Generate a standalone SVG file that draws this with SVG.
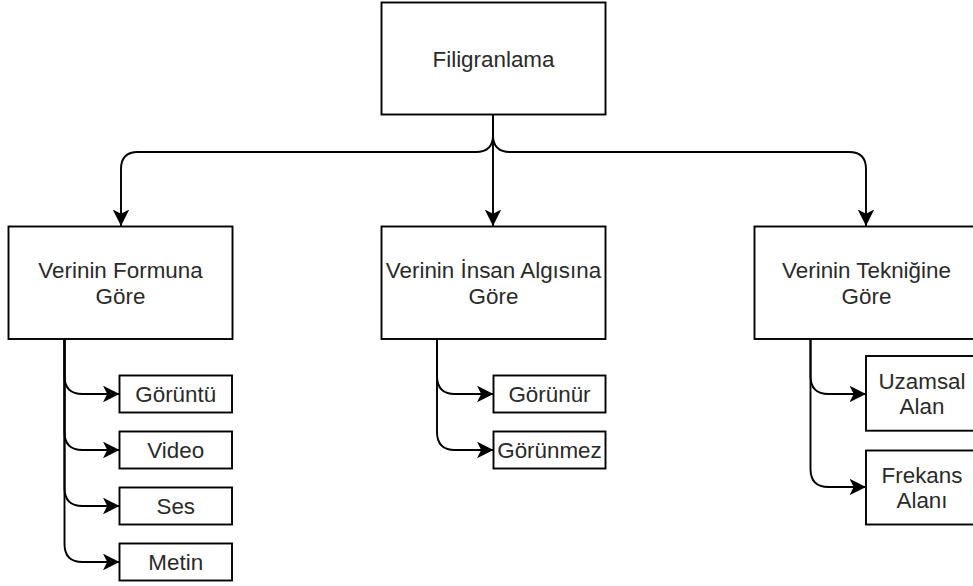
<svg xmlns="http://www.w3.org/2000/svg" width="973" height="586" viewBox="0 0 973 586">
  <style>
    .box { fill: #ffffff; stroke: #000000; stroke-width: 1.9; }
    .lbl { font-family: "Liberation Sans", Arial, Helvetica, sans-serif; font-size: 22.4px; fill: #2a2a2a; text-anchor: middle; }
    .edge { fill: none; stroke: #000000; stroke-width: 1.9; marker-end: url(#arrow); }
  </style>
  <defs>
    <marker id="arrow" markerUnits="userSpaceOnUse" markerWidth="20" markerHeight="20" refX="16.5" refY="8.3" orient="auto">
      <path d="M0,0 L16.5,8.3 L0,16.6 L4.2,8.3 Z" fill="#000000"/>
    </marker>
  </defs>
  <rect width="973" height="586" fill="#ffffff"/>

  <g id="connectors">
    <path class="edge" d="M493,115 L493,135 Q493,152 476,152 L138,152 Q121,152 121,169 L121,226"/>
    <path class="edge" d="M493,115 L493,226"/>
    <path class="edge" d="M493,115 L493,135 Q493,152 510,152 L849,152 Q866,152 866,169 L866,226"/>

    <path class="edge" d="M64.5,339 L64.5,376 Q64.5,394 82.5,394 L119.5,394"/>
    <path class="edge" d="M64.5,339 L64.5,432 Q64.5,450 82.5,450 L119.5,450"/>
    <path class="edge" d="M64.5,339 L64.5,488 Q64.5,506 82.5,506 L119.5,506"/>
    <path class="edge" d="M64.5,339 L64.5,544 Q64.5,562 82.5,562 L119.5,562"/>

    <path class="edge" d="M437,339 L437,376 Q437,394 455,394 L493.5,394"/>
    <path class="edge" d="M437,339 L437,432 Q437,450 455,450 L493.5,450"/>

    <path class="edge" d="M810.5,339 L810.5,376 Q810.5,394 828.5,394 L866,394"/>
    <path class="edge" d="M810.5,339 L810.5,469 Q810.5,487 828.5,487 L866,487"/>
  </g>

  <g id="filigranlama">
    <rect class="box" x="381.5" y="2.5" width="224" height="112"/>
    <text class="lbl" x="493.5" y="66.5">Filigranlama</text>
  </g>

  <g id="formuna">
    <rect class="box" x="8.5" y="226.5" width="224" height="112.5"/>
    <text class="lbl" x="120.5" y="278">Verinin Formuna</text>
    <text class="lbl" x="120.5" y="303.5">Göre</text>
  </g>

  <g id="insan">
    <rect class="box" x="381.5" y="226.5" width="224" height="112.5"/>
    <text class="lbl" x="493.5" y="278">Verinin İnsan Algısına</text>
    <text class="lbl" x="493.5" y="303.5">Göre</text>
  </g>

  <g id="teknik">
    <rect class="box" x="754.5" y="226.5" width="224" height="112.5"/>
    <text class="lbl" x="866.5" y="278">Verinin Tekniğine</text>
    <text class="lbl" x="866.5" y="303.5">Göre</text>
  </g>

  <g id="goruntu">
    <rect class="box" x="119.5" y="375.5" width="112.5" height="37"/>
    <text class="lbl" x="175.75" y="402">Görüntü</text>
  </g>
  <g id="video">
    <rect class="box" x="119.5" y="431.5" width="112.5" height="37"/>
    <text class="lbl" x="175.75" y="458">Video</text>
  </g>
  <g id="ses">
    <rect class="box" x="119.5" y="487.5" width="112.5" height="37"/>
    <text class="lbl" x="175.75" y="514">Ses</text>
  </g>
  <g id="metin">
    <rect class="box" x="119.5" y="543.5" width="112.5" height="37"/>
    <text class="lbl" x="175.75" y="570">Metin</text>
  </g>

  <g id="gorunur">
    <rect class="box" x="493.5" y="375.5" width="112" height="37"/>
    <text class="lbl" x="549.5" y="402">Görünür</text>
  </g>
  <g id="gorunmez">
    <rect class="box" x="493.5" y="431.5" width="112" height="37"/>
    <text class="lbl" x="549.5" y="458">Görünmez</text>
  </g>

  <g id="uzamsal">
    <rect class="box" x="866" y="356" width="112" height="74.7"/>
    <text class="lbl" x="922" y="388.5">Uzamsal</text>
    <text class="lbl" x="922" y="414">Alan</text>
  </g>
  <g id="frekans">
    <rect class="box" x="866" y="450.5" width="112" height="74"/>
    <text class="lbl" x="922" y="482.7">Frekans</text>
    <text class="lbl" x="922" y="508.3">Alanı</text>
  </g>
</svg>
